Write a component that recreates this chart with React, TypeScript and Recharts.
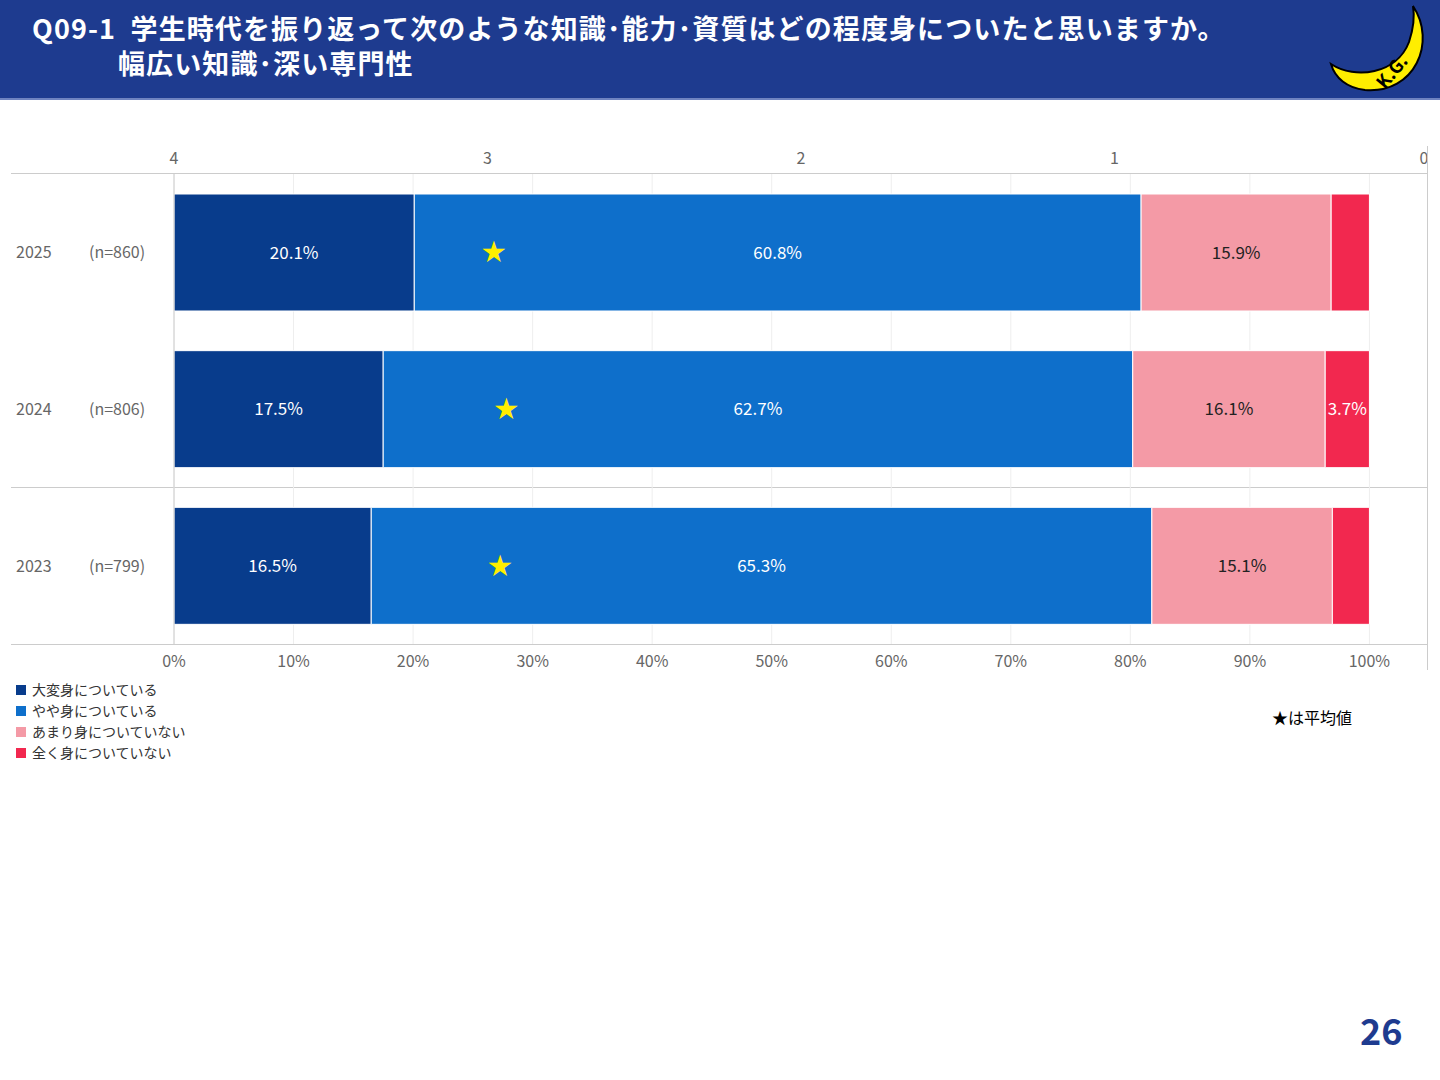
import React from 'react';
import { ComposedChart, Bar, Scatter, XAxis, YAxis, CartesianGrid, LabelList } from 'recharts';

const years = ['2025', '2024', '2023'];
const counts = ['(n=860)', '(n=806)', '(n=799)'];
const veryMuch = [20.1, 17.5, 16.5];
const somewhat = [60.8, 62.7, 65.3];
const notMuch = [15.9, 16.1, 15.1];
const notAtAll = [3.2, 3.7, 3.1];
const averages = [2.98, 2.94, 2.96];
const pctTicks = [0, 10, 20, 30, 40, 50, 60, 70, 80, 90, 100];
const scoreTicks = [4, 3, 2, 1, 0];

const seriesNames = ['大変身についている', 'やや身についている', 'あまり身についていない', '全く身についていない'];
const colors = ['#083c8c', '#0e6fcb', '#f49aa6', '#f2284f'];
const labelColors = ['#fff', '#fff', '#222', '#fff'];

const data = years.map((y, i) => ({
  year: y,
  n: counts[i],
  s0: veryMuch[i],
  s1: somewhat[i],
  s2: notMuch[i],
  s3: notAtAll[i],
  avg: averages[i],
}));

const font = '"Noto Sans CJK JP", "Noto Sans", sans-serif';

const YTick = (props: any) => {
  const { y, payload, index } = props;
  return (
    <g>
      <text x={5} y={y} dy={6} fontSize={16} fill="#666" fontFamily={font}>{payload.value}</text>
      <text x={78} y={y} dy={6} fontSize={16} fill="#666" fontFamily={font}>{counts[index]}</text>
    </g>
  );
};

const Star = (props: any) => {
  const { cx, cy } = props;
  return <text x={cx} y={cy} dy={8} textAnchor="middle" fontSize={24} fill="#ffee00">★</text>;
};

export default function App() {
  return (
    <div style={{ position: 'fixed', left: 0, top: 0, width: 1440, height: 1080, background: '#fff', fontFamily: font, overflow: 'hidden' }}>
      <div style={{ position: 'absolute', left: 0, top: 0, width: 1440, height: 98, background: '#1e3b8f', borderBottom: '2px solid #6f83c0' }}>
        <div style={{ position: 'absolute', left: 32, top: 10, color: '#fff', fontWeight: 700, fontSize: 27, lineHeight: '35px', letterSpacing: 1.1, whiteSpace: 'pre' }}>
          <div>{'Q09-1  学生時代を振り返って次のような知識･能力･資質はどの程度身についたと思いますか。'}</div>
          <div style={{ marginLeft: 86 }}>幅広い知識･深い専門性</div>
        </div>
        <svg style={{ position: 'absolute', left: 1325, top: 2 }} width={100} height={95}>
          <path d="M88 4 C112 40 90 92 40 88 C22 86 10 76 6 62 C30 78 72 72 84 40 C88 28 90 16 88 4 Z" fill="#ffee00" stroke="#000" strokeWidth={2} />
          <text x={60} y={88} fontSize={18} fontWeight={700} transform="rotate(-50 60 88)" fill="#000">K.G.</text>
        </svg>
      </div>

      <div style={{ position: 'absolute', left: 11, top: 173, width: 1417, height: 1, background: '#ccc' }} />
      <div style={{ position: 'absolute', left: 11, top: 487, width: 1417, height: 1, background: '#ccc' }} />
      <div style={{ position: 'absolute', left: 11, top: 644, width: 1417, height: 1, background: '#ccc' }} />

      <div style={{ position: 'absolute', left: 11, top: 140 }}>
        <ComposedChart width={1417} height={536} data={data} layout="vertical" barCategoryGap={20}
          margin={{ top: 0, right: 0, bottom: 0, left: 0 }}>
          <CartesianGrid horizontal={false} stroke="#eee" xAxisId="pct" />
          <XAxis xAxisId="pct" type="number" domain={[0, 104.9]} ticks={pctTicks} orientation="bottom"
            tickFormatter={(v: number) => `${v}%`} tick={{ fontSize: 16, fill: '#666', fontFamily: font, dy: 4 }}
            axisLine={false} tickLine={false} height={32} allowDataOverflow />
          <XAxis xAxisId="score" type="number" domain={[0, 4]} reversed ticks={scoreTicks} orientation="top"
            tick={{ fontSize: 16, fill: '#666', fontFamily: font, dy: -2 }} axisLine={false} tickLine={false} height={34} />
          <YAxis yAxisId="y" type="category" dataKey="year" width={163} tick={<YTick />} axisLine={{ stroke: '#ccc' }} tickLine={false} />
          {['s0', 's1', 's2', 's3'].map((k, i) => (
            <Bar key={k} dataKey={k} stackId="a" xAxisId="pct" yAxisId="y" fill={colors[i]} stroke="#fff" strokeWidth={1}
              name={seriesNames[i]} isAnimationActive={false}>
              <LabelList dataKey={k} position="center" fill={labelColors[i]} fontSize={17} fontFamily={font}
                formatter={(v: number) => (i === 3 && v < 3.5 ? '' : `${v.toFixed(1)}%`)} />
            </Bar>
          ))}
          <Scatter dataKey="avg" xAxisId="score" yAxisId="y" shape={<Star />} isAnimationActive={false} />
        </ComposedChart>
      </div>
      <div style={{ position: 'absolute', left: 1427, top: 146, width: 1, height: 524, background: '#ccc' }} />

      <div style={{ position: 'absolute', left: 16, top: 679, fontSize: 14, color: '#333', lineHeight: '21px' }}>
        {seriesNames.map((n, i) => (
          <div key={n} style={{ display: 'flex', alignItems: 'center' }}>
            <span style={{ width: 10, height: 10, background: colors[i], marginRight: 6, display: 'inline-block' }} />
            {n}
          </div>
        ))}
      </div>
      <div style={{ position: 'absolute', left: 1272, top: 705, fontSize: 16, color: '#000' }}>★は平均値</div>
      <div style={{ position: 'absolute', left: 1360, top: 1003, fontSize: 36, fontWeight: 700, color: '#1e3b8f' }}>26</div>
    </div>
  );
}
